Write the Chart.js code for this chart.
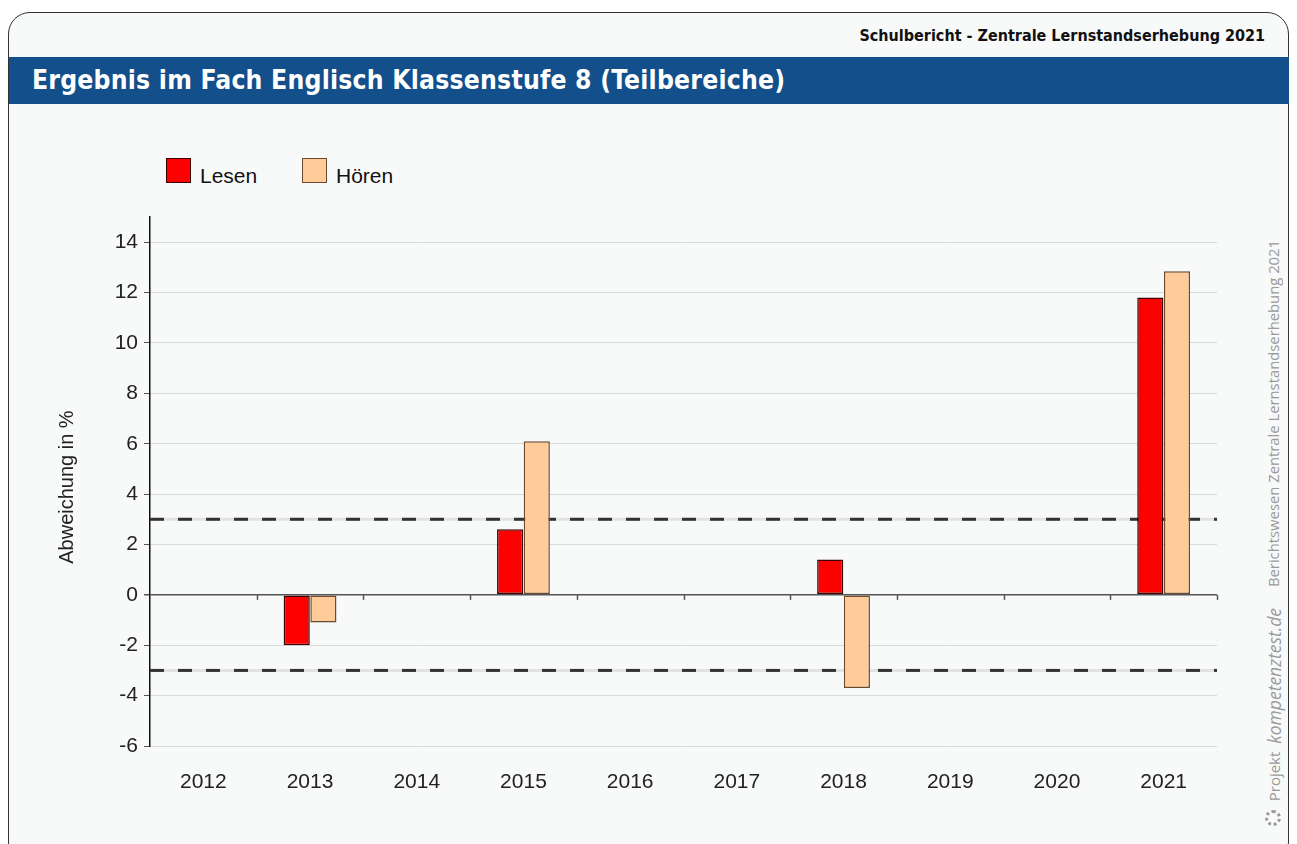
<!DOCTYPE html>
<html lang="de">
<head>
<meta charset="utf-8">
<title>Ergebnis im Fach Englisch Klassenstufe 8 (Teilbereiche)</title>
<script src="https://cdn.jsdelivr.net/npm/chart.js@4.4.1/dist/chart.umd.min.js"></script>
<style>
  html, body { margin: 0; padding: 0; background: #ffffff; }
  body { width: 1297px; height: 844px; position: relative; overflow: hidden; font-family: "Liberation Sans", Arial, sans-serif; }
  #frame {
    position: absolute; left: 8px; top: 12px; width: 1279px; height: 850px;
    border: 1.5px solid #333; border-radius: 22px; background: #f8f9f9;
  }
  #kopf {
    position: absolute; right: 32px; top: 26px;
    font-family: "DejaVu Sans Condensed", "DejaVu Sans", sans-serif; font-weight: bold;
    font-size: 16px; color: #111;
  }
  #band {
    position: absolute; left: 9px; top: 57px; width: 1280px; height: 47px;
    background: #124f8b;
  }
  #titel {
    position: absolute; left: 32px; top: 65px;
    font-family: "DejaVu Sans Condensed", "DejaVu Sans", sans-serif; font-weight: bold;
    font-size: 26.3px; color: #ffffff; letter-spacing: 0.2px;
  }
  #legende { position: absolute; left: 166px; top: 158px; font-size: 21px; color: #111; }
  .eintrag { position: absolute; top: 0; white-space: nowrap; }
  .kasten { position: absolute; left: 0; top: 0; width: 23px; height: 23px; border: 1.5px solid #333; }
  .eintrag span { position: absolute; left: 34px; top: 6px; }
  .seite {
    position: absolute; left: 1263px; writing-mode: vertical-rl; transform: rotate(180deg);
    font-family: "Open Sans", sans-serif; font-size: 14.8px; color: #9a9a9a; white-space: nowrap;
  }
  #logo {
    position: absolute; left: 1265px; top: 810px; width: 10px; height: 10px;
    border: 3px dotted #9a9a9a; border-radius: 50%;
  }
  #chart { position: absolute; left: 0; top: 0; }
</style>
</head>
<body>
<div id="frame"></div>
<div id="kopf">Schulbericht - Zentrale Lernstandserhebung 2021</div>
<div id="band"></div>
<div id="titel">Ergebnis im Fach Englisch Klassenstufe 8 (Teilbereiche)</div>
<div id="legende"></div>
<div class="seite" style="top:240px;">Berichtswesen Zentrale Lernstandserhebung 2021</div>
<div class="seite" style="top:608px; left:1262px; font-size:15px;">Projekt&nbsp; <i style="font-size:17.5px;">kompetenztest.de</i></div>
<div id="logo"></div>
<canvas id="chart" width="1297" height="844"></canvas>

<script>
// Daten
const jahre = ['2012', '2013', '2014', '2015', '2016', '2017', '2018', '2019', '2020', '2021'];
const lesen = [null, -2.0, null, 2.6, null, null, 1.4, null, null, 11.8];
const hoeren = [null, -1.1, null, 6.1, null, null, -3.7, null, null, 12.85];
const serienNamen = ['Lesen', 'Hören'];
const grenzen = [3, -3]; // gestrichelte Linien
const yMin = -6;
const yMax = 15;

const farben = ['#ff0000', '#ffcc99'];
const rahmen = ['#3a0000', '#6b4a2e'];

// Legende als HTML
const legende = document.getElementById('legende');
serienNamen.forEach((name, i) => {
  const e = document.createElement('div');
  e.className = 'eintrag';
  e.style.left = (i * 136) + 'px';
  e.innerHTML = '<div class="kasten" style="background:' + farben[i] + ';border-color:' + rahmen[i] + '"></div><span>' + name + '</span>';
  legende.appendChild(e);
});

// Plugin: gestrichelte Linien bei +-3 und Striche an der Nulllinie
const extras = {
  id: 'extras',
  beforeDatasetsDraw(chart) {
    const { ctx, chartArea, scales } = chart;
    ctx.save();
    grenzen.forEach(v => {
      const y = scales.y.getPixelForValue(v);
      ctx.lineWidth = 3;
      ctx.strokeStyle = '#e2e2e2';
      ctx.setLineDash([]);
      ctx.beginPath();
      ctx.moveTo(chartArea.left, y);
      ctx.lineTo(chartArea.right, y);
      ctx.stroke();
      ctx.strokeStyle = '#333333';
      ctx.setLineDash([14, 14]);
      ctx.beginPath();
      ctx.moveTo(chartArea.left, y);
      ctx.lineTo(chartArea.right, y);
      ctx.stroke();
    });
    // kleine Striche unter der Nulllinie zwischen den Jahren
    const y0 = scales.y.getPixelForValue(0);
    const breite = (chartArea.right - chartArea.left) / jahre.length;
    ctx.setLineDash([]);
    ctx.lineWidth = 1.5;
    ctx.strokeStyle = '#555555';
    for (let i = 1; i <= jahre.length; i++) {
      const x = Math.round(chartArea.left + i * breite) + 0.5;
      ctx.beginPath();
      ctx.moveTo(x, y0);
      ctx.lineTo(x, y0 + 5);
      ctx.stroke();
    }
    ctx.restore();
  }
};

const ctx = document.getElementById('chart').getContext('2d');
const chart = new Chart(ctx, {
  type: 'bar',
  data: {
    labels: jahre,
    datasets: [{
      label: serienNamen[0],
      data: lesen,
      backgroundColor: farben[0],
      borderColor: rahmen[0],
      borderWidth: 1.5,
      borderSkipped: false
    }, {
      label: serienNamen[1],
      data: hoeren,
      backgroundColor: farben[1],
      borderColor: rahmen[1],
      borderWidth: 1.5,
      borderSkipped: false
    }]
  },
  options: {
    responsive: false,
    animation: false,
    categoryPercentage: 0.5,
    barPercentage: 0.98,
    layout: {
      padding: { left: 50, top: 217, right: 80, bottom: 38 }
    },
    plugins: {
      legend: { display: false },
      tooltip: { enabled: false }
    },
    scales: {
      x: {
        grid: { display: false },
        border: { display: false },
        ticks: {
          color: '#222',
          font: { family: '"Liberation Sans", Arial, sans-serif', size: 21 },
          padding: 16
        },
        afterFit: (scale) => { scale.height = 60; }
      },
      y: {
        min: yMin,
        max: yMax,
        ticks: {
          stepSize: 2,
          includeBounds: false,
          color: '#222',
          font: { family: '"Liberation Sans", Arial, sans-serif', size: 21 },
          padding: 6
        },
        grid: {
          color: (c) => c.tick && c.tick.value === 0 ? '#555555' : '#d9d9d9',
          lineWidth: (c) => c.tick && c.tick.value === 0 ? 1.5 : 1,
          tickColor: '#555555',
          tickLength: 6
        },
        border: { color: '#111', width: 1.5 },
        title: {
          display: true,
          text: 'Abweichung in %\u00a0\u00a0',
          color: '#222',
          font: { family: '"Liberation Sans", Arial, sans-serif', size: 20 },
          padding: { top: 5, bottom: 0 }
        },
        afterFit: (scale) => { scale.width = 100; }
      }
    }
  },
  plugins: [extras]
});
</script>
</body>
</html>
